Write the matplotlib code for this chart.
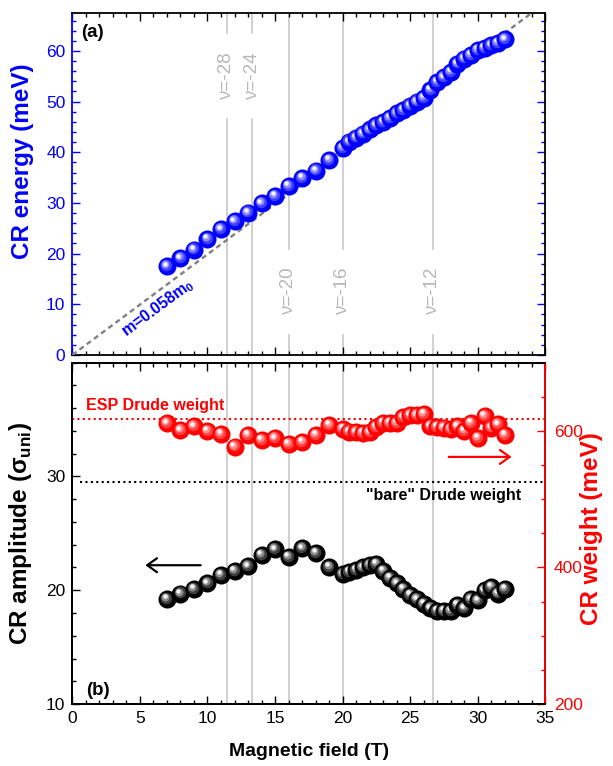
import numpy as np
import matplotlib

matplotlib.use("Agg")
import matplotlib.pyplot as plt  # noqa: E402
import matplotlib.colors as mcolors  # noqa: E402
from matplotlib.transforms import offset_copy  # noqa: E402
from matplotlib.ticker import MultipleLocator  # noqa: E402

plt.rcParams["font.family"] = ["Liberation Sans", "DejaVu Sans"]

# ---- data ----
field = [7, 8, 9, 10, 11, 12, 13, 14, 15, 16, 17, 18, 19,
         20, 20.5, 21, 21.5, 22, 22.5, 23, 23.5, 24, 24.5, 25, 25.5,
         26, 26.5, 27, 27.5, 28, 28.5, 29, 29.5, 30, 30.5, 31, 31.5, 32]
cr_energy = [17.5, 19.1, 20.8, 22.9, 24.8, 26.4, 28.1, 29.9, 31.4, 33.4, 34.9, 36.4, 38.5,
             40.9, 42.1, 42.9, 43.7, 44.5, 45.3, 46.0, 46.8, 47.7, 48.4, 49.2, 50.0,
             50.7, 52.3, 53.9, 54.8, 55.9, 57.5, 58.5, 59.2, 60.2, 60.6, 61.1, 61.6, 62.3]
cr_weight = [611, 601, 607, 600, 596, 577, 594, 587, 589, 581, 584, 594, 609,
             603, 599, 598, 597, 598, 606, 612, 612, 612, 620, 623, 623,
             625, 607, 606, 605, 603, 607, 600, 612, 590, 622, 605, 610, 594]
cr_amp = [19.25, 19.7, 20.1, 20.6, 21.35, 21.7, 22.1, 23.1, 23.6, 22.95, 23.7, 23.3, 22.05,
          21.4, 21.6, 21.8, 22.0, 22.2, 22.3, 21.7, 21.1, 20.6, 20.1, 19.6, 19.2,
          18.8, 18.4, 18.2, 18.2, 18.2, 18.7, 18.4, 19.2, 19.1, 20.0, 20.3, 19.7, 20.1]

fit_B = [0, 35]            # m = 0.058 m0 line
fit_E = [0, 69.5]

nu_labels = ["ν=-28", "ν=-24", "ν=-20", "ν=-16", "ν=-12"]
nu_field = [11.43, 13.33, 16.0, 20.0, 26.67]
nu_label_y = [55.1, 55.1, 12.5, 12.5, 12.5]

esp_weight = 618     # meV, right axis
bare_amp = 29.5      # left axis

BLUE, RED, GRAY = "#0000ff", "#ff0000", "#c4c4c4"

fig = plt.figure(figsize=(6.13, 7.66), dpi=100, facecolor="white")
ax1 = fig.add_axes([0.118, 0.5366, 0.7716, 0.4465])
ax2 = fig.add_axes([0.118, 0.0809, 0.7716, 0.4456])
ax2r = ax2.twinx()


def balls(ax, xs, ys, color, d=13.0, z0=5):
    """Origin-style shaded spheres: later points drawn on top."""
    base = np.array(mcolors.to_rgb(color))
    layers = [(1.0, 0.0, 0.0), (0.64, 0.25, 0.45), (0.44, 0.55, 0.75), (0.25, 0.95, 1.0)]
    for i, (x, y) in enumerate(zip(xs, ys)):
        for j, (f, mix, off) in enumerate(layers):
            tr = offset_copy(ax.transData, fig=ax.figure, x=-1.5 * off, y=1.9 * off, units="points")
            c = base * (1 - mix) + mix
            ax.scatter([x], [y], s=(d * f) ** 2, color=c, linewidths=0, transform=tr,
                       zorder=z0 + i * 0.01 + j * 0.001, clip_on=False)


def style(ax):
    for sp in ax.spines.values():
        sp.set_linewidth(1.3)
    ax.tick_params(which="both", direction="in", width=1.0, labelsize=12.5)
    ax.tick_params(which="major", length=5.5)
    ax.tick_params(which="minor", length=3)


LABEL = dict(fontsize=17.5, fontweight="bold")

# ---- panel (a) ----
style(ax1)
ax1.set_xlim(0, 35)
ax1.set_ylim(0, 67.5)
ax1.xaxis.set_major_locator(MultipleLocator(5))
ax1.xaxis.set_minor_locator(MultipleLocator(1))
ax1.yaxis.set_major_locator(MultipleLocator(10))
ax1.yaxis.set_minor_locator(MultipleLocator(2))
ax1.tick_params(axis="x", which="both", top=True, bottom=True, labelbottom=False)
ax1.tick_params(axis="y", which="both", right=True, left=True, colors=BLUE, pad=5)
ax1.spines["left"].set_color(BLUE)
for t in ax1.yaxis.get_ticklines(minor=False)[1::2] + ax1.yaxis.get_ticklines(minor=True)[1::2]:
    t.set_color("k")
ax1.set_ylabel("CR energy (meV)", color=BLUE, **LABEL)
ax1.yaxis.set_label_coords(-0.081, 0.567)

for x, lab, ly in zip(nu_field, nu_labels, nu_label_y):
    gap = 8.5
    ax1.plot([x, x], [0, ly - gap], color=GRAY, lw=1.1, zorder=1)
    ax1.plot([x, x], [ly + gap, 67.5], color=GRAY, lw=1.1, zorder=1)
    ax1.text(x, ly, lab, rotation=90, ha="center", va="center", color="#b8b8b8",
             fontsize=13.5, zorder=2)

ax1.plot(fit_B, fit_E, color="#808080", lw=1.7, dashes=(2.2, 1.6), zorder=3)
ax1.text(6.3, 9.2, "m=0.058m$_\\mathregular{0}$", rotation=36.5, color=BLUE, fontsize=11.5,
         fontweight="bold", ha="center", va="center", rotation_mode="anchor")
balls(ax1, field, cr_energy, BLUE)
ax1.text(0.018, 0.944, "(a)", transform=ax1.transAxes, fontsize=13.5, fontweight="bold",
         va="center", ha="left")

# ---- panel (b) ----
style(ax2)
style(ax2r)
ax2.set_xlim(0, 35)
ax2.set_ylim(10, 40)
ax2r.set_ylim(200, 700)
ax2.xaxis.set_major_locator(MultipleLocator(5))
ax2.xaxis.set_minor_locator(MultipleLocator(1))
ax2.set_yticks([10, 20, 30])
ax2.yaxis.set_minor_locator(MultipleLocator(2))
ax2r.set_yticks([200, 400, 600])
ax2r.yaxis.set_minor_locator(MultipleLocator(50))
ax2.tick_params(axis="x", which="both", top=True, bottom=True, pad=5)
ax2.tick_params(axis="y", which="both", left=True, right=False, pad=5)
ax2r.tick_params(axis="y", which="both", colors=RED, pad=6)
ax2r.spines["right"].set_color(RED)
ax2.set_xlabel("Magnetic field (T)", fontsize=14, fontweight="bold", labelpad=12)
ax2.set_ylabel("CR amplitude (σ$_{\\mathregular{uni}}$)", **LABEL)
ax2.yaxis.set_label_coords(-0.081, 0.4985)
ax2r.set_ylabel("CR weight (meV)", color=RED, **LABEL)
ax2r.yaxis.set_label_coords(1.074, 0.513)

for x in nu_field:
    ax2.axvline(x, color=GRAY, lw=1.1, zorder=1)
ax2.plot([0.6, 35], [bare_amp, bare_amp], color="k", lw=1.5, ls=(0, (1, 1.6)), zorder=2)
ax2r.plot([0, 35], [esp_weight, esp_weight], color=RED, lw=1.5, ls=(0, (1, 1.6)), zorder=2)
ax2r.text(1.0, 638, "ESP Drude weight", color=RED, fontsize=11.5, fontweight="bold",
          ha="left", va="center")
ax2.text(33.2, 28.3, "\"bare\" Drude weight", color="k", fontsize=11.5, fontweight="bold",
         ha="right", va="center")

balls(ax2, field, cr_amp, "#000000")
balls(ax2r, field, cr_weight, RED)

ax2.annotate("", xy=(5.4, 22.2), xytext=(9.5, 22.2),
             arrowprops=dict(arrowstyle="->,head_length=0.35,head_width=0.25", lw=1.6,
                             color="k", mutation_scale=20, shrinkA=0, shrinkB=0))
ax2r.annotate("", xy=(32.5, 562), xytext=(27.85, 562),
              arrowprops=dict(arrowstyle="->,head_length=0.35,head_width=0.25", lw=1.6,
                              color=RED, mutation_scale=20, shrinkA=0, shrinkB=0))
ax2.text(0.03, 0.041, "(b)", transform=ax2.transAxes, fontsize=13.5, fontweight="bold",
         va="center", ha="left")

fig.savefig("out.png", dpi=100, facecolor="white")
